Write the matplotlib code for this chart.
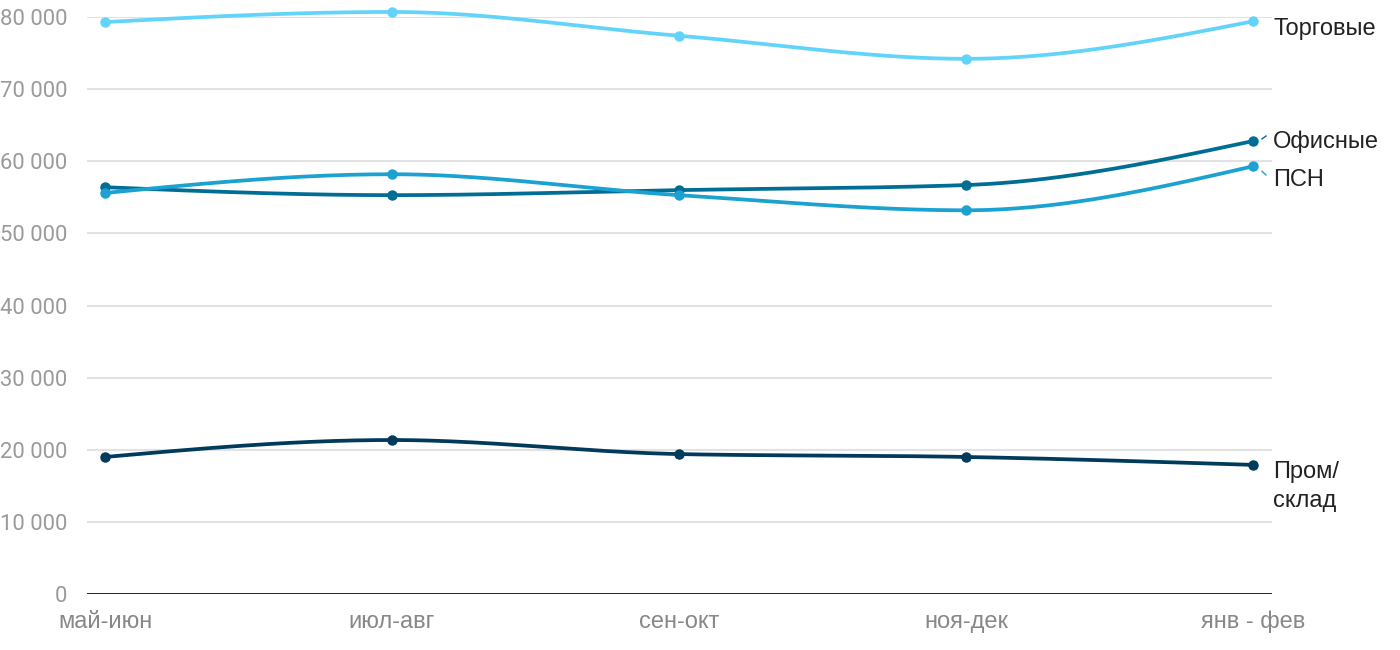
import numpy as np
import matplotlib
matplotlib.use("Agg")
import matplotlib.pyplot as plt

# Data
periods = ["май-июн", "июл-авг", "сен-окт", "ноя-дек", "янв - фев"]
trade = [79300, 80700, 77400, 74200, 79400]
office = [56400, 55300, 56000, 56700, 62800]
psn = [55600, 58200, 55300, 53200, 59300]
warehouse = [19000, 21350, 19400, 19000, 17900]

series_names = ["Торговые", "Офисные", "ПСН", "Пром/\nсклад"]
y_ticks = [0, 10000, 20000, 30000, 40000, 50000, 60000, 70000, 80000]

colors = ["#62d4fa", "#006d94", "#1ba2d0", "#003b5c"]


def monotone_curve(xs, ys, n=40):
    # same smoothing as d3.curveMonotoneX
    xs = np.asarray(xs, float)
    ys = np.asarray(ys, float)
    k = len(xs)
    t = np.zeros(k)
    for i in range(1, k - 1):
        h0 = xs[i] - xs[i - 1]
        h1 = xs[i + 1] - xs[i]
        s0 = (ys[i] - ys[i - 1]) / h0
        s1 = (ys[i + 1] - ys[i]) / h1
        p = (s0 * h1 + s1 * h0) / (h0 + h1)
        t[i] = (np.sign(s0) + np.sign(s1)) * min(abs(s0), abs(s1), 0.5 * abs(p))
    h = xs[1] - xs[0]
    t[0] = (3 * (ys[1] - ys[0]) / h - t[1]) / 2
    h = xs[-1] - xs[-2]
    t[-1] = (3 * (ys[-1] - ys[-2]) / h - t[-2]) / 2
    out_x, out_y = [], []
    for i in range(k - 1):
        h = xs[i + 1] - xs[i]
        u = np.linspace(0, 1, n)
        h00 = 2 * u**3 - 3 * u**2 + 1
        h10 = u**3 - 2 * u**2 + u
        h01 = -2 * u**3 + 3 * u**2
        h11 = u**3 - u**2
        out_x.extend(xs[i] + u * h)
        out_y.extend(h00 * ys[i] + h10 * h * t[i] + h01 * ys[i + 1] + h11 * h * t[i + 1])
    return out_x, out_y


fig = plt.figure(figsize=(14, 6.5), dpi=100)
ax = fig.add_axes([87 / 1400, 1 - 594 / 650, (1272 - 87) / 1400, (594 - 17) / 650])

x = np.arange(len(periods))
all_series = [trade, office, psn, warehouse]
for vals, c in zip(all_series, colors):
    cx, cy = monotone_curve(x, vals)
    ax.plot(cx, cy, color=c, lw=2.7, solid_capstyle="round", zorder=3, clip_on=False)
    ax.plot(x, vals, "o", color=c, ms=6.5, zorder=4, clip_on=False)

ax.set_xlim(-18 / 287, 4 + 19 / 287)
ax.set_ylim(0, 80000)

for s in ax.spines.values():
    s.set_visible(False)
for yt in y_ticks[1:]:
    ax.axhline(yt, color="#e2e2e2", lw=1.5, zorder=1)
ax.axhline(0, color="#111111", lw=2, zorder=2)

ax.set_yticks(y_ticks)
ax.set_yticklabels([f"{v:,}".replace(",", " ") for v in y_ticks],
                   fontfamily="Roboto", fontsize=15.8, color="#9a9a9a")
ax.set_xticks(x)
ax.set_xticklabels(periods, fontfamily="Liberation Sans", fontsize=17, color="#888888")
ax.tick_params(axis="both", length=0)
ax.tick_params(axis="y", pad=14)
ax.tick_params(axis="x", pad=12)

# direct labels on the right
label_y = [78300, 62700, 57400]
for name, ly in zip(series_names[:3], label_y):
    ax.text(4 + 20 / 287, ly, name, fontfamily="Liberation Sans", fontsize=17,
            color="#222222", va="center", clip_on=False)
ax.text(4 + 20 / 287, 14900, series_names[3], fontfamily="Liberation Sans", fontsize=17,
        color="#222222", va="center", linespacing=1.4, clip_on=False)

# short leaders where labels were nudged
ax.plot([4 + 9 / 287, 4 + 13 / 287], [63100, 63500], color=colors[1], lw=1, clip_on=False)
ax.plot([4 + 9 / 287, 4 + 13 / 287], [58600, 58100], color=colors[2], lw=1, clip_on=False)

fig.savefig("out.png", dpi=100)
